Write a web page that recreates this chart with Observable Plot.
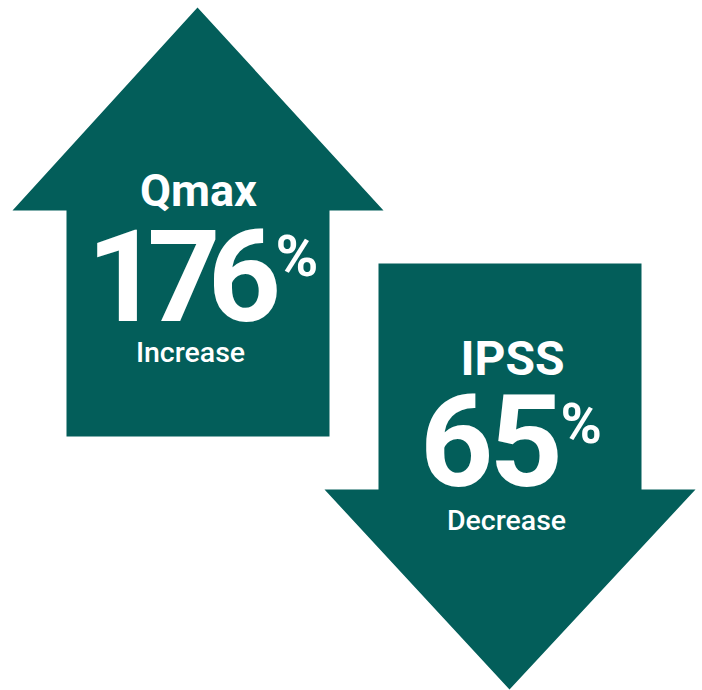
<!DOCTYPE html>
<html>
<head>
<meta charset="utf-8">
<script src="https://cdn.jsdelivr.net/npm/d3@7"></script>
<script src="https://cdn.jsdelivr.net/npm/@observablehq/plot@0.6"></script>
<style>
  html, body { margin: 0; padding: 0; background: #ffffff; }
  #chart svg { display: block; }
</style>
</head>
<body>
<div id="chart"></div>
<script>
// ---- data ----
const metrics = ["Qmax", "IPSS"];
const values = [176, 65];
const changes = ["Increase", "Decrease"];
const directions = ["up", "down"];

// ---- layout (per arrow) ----
const W = 702, H = 690;
const COLOR = "#035E5A";
const layout = {
  up:   {tipX: 197, tipY: 7,   headY: 210, headL: 12,  headR: 383, shaftL: 66,  shaftR: 329, endY: 436,
         titleX: 198, titleY: 205, titleSize: 45, numX: 177, numY: 320, numSpacing: -13,
         pctX: 275, pctY: 275, pctSize: 58, subX: 190, subY: 361},
  down: {tipX: 509, tipY: 689, headY: 489, headL: 324, headR: 695, shaftL: 378, shaftR: 641, endY: 263,
         titleX: 512, titleY: 374, titleSize: 48, numX: 489, numY: 485, numSpacing: -4,
         pctX: 560, pctY: 442, pctSize: 56, subX: 506, subY: 529}
};

function arrowPoints(id, g) {
  return [
    [g.tipX, g.tipY], [g.headR, g.headY], [g.shaftR, g.headY], [g.shaftR, g.endY],
    [g.shaftL, g.endY], [g.shaftL, g.headY], [g.headL, g.headY]
  ].map(([x, y]) => ({id, x, y}));
}

const polys = directions.flatMap((d, i) => arrowPoints(metrics[i], layout[d]));
const labels = directions.map((d, i) => ({
  metric: metrics[i], value: values[i], change: changes[i], ...layout[d]
}));

const font = "Roboto, 'Noto Sans', sans-serif";

const chart = Plot.plot({
  width: W, height: H,
  margin: 0,
  x: {domain: [0, W], range: [0, W], axis: null},
  y: {domain: [0, H], range: [0, H], axis: null},
  style: {background: "#ffffff", fontFamily: font},
  marks: [
    Plot.line(polys, {x: "x", y: "y", z: "id", curve: "linear-closed", fill: COLOR, stroke: "none"}),
    Plot.text(labels, {x: "titleX", y: "titleY", text: "metric", fill: "white", fontSize: d => d.titleSize, fontWeight: 700, lineAnchor: "bottom", textAnchor: "middle", fontFamily: font}),
    Plot.text(labels, {x: "numX", y: "numY", text: d => String(d.value), fill: "white", fontSize: 128, fontWeight: 700, lineAnchor: "bottom", textAnchor: "middle", fontFamily: font}),
    Plot.text(labels, {x: "pctX", y: "pctY", text: () => "%", fill: "white", fontSize: d => d.pctSize, fontWeight: 700, lineAnchor: "bottom", textAnchor: "start", fontFamily: font}),
    Plot.text(labels, {x: "subX", y: "subY", text: "change", fill: "white", fontSize: 28.5, fontWeight: 500, lineAnchor: "bottom", textAnchor: "middle", fontFamily: font})
  ]
});

// tighten digit spacing of the big numbers
const textGroups = d3.select(chart).selectAll('g[aria-label="text"]').nodes();
if (textGroups[1]) {
  d3.select(textGroups[1]).selectAll("text").each(function(_, i) {
    this.style.letterSpacing = labels[i].numSpacing + "px";
  });
}
document.getElementById("chart").appendChild(chart);
</script>
</body>
</html>
